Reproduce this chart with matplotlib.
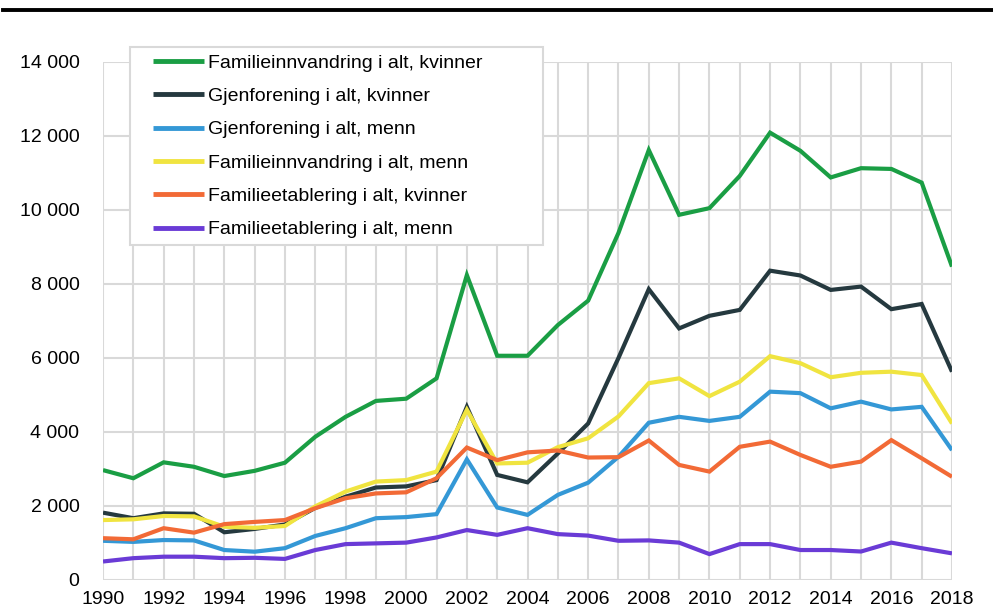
import numpy as np
import matplotlib
matplotlib.use("Agg")
import matplotlib.pyplot as plt
from matplotlib.patches import Rectangle
from matplotlib.ticker import FuncFormatter, MultipleLocator

plt.rcParams['font.family'] = ['Liberation Sans', 'DejaVu Sans']

years = list(range(1990, 2019))

# Familieinnvandring i alt, kvinner
fam_kv = [2970, 2750, 3180, 3060, 2810, 2950, 3170, 3870, 4410, 4840, 4900, 5450,
          8240, 6060, 6060, 6890, 7550, 9380, 11620, 9870, 10050, 10920, 12090,
          11600, 10880, 11130, 11110, 10740, 8470]
# Gjenforening i alt, kvinner
gjen_kv = [1820, 1670, 1800, 1790, 1290, 1380, 1500, 1950, 2250, 2500, 2530, 2700,
           4680, 2840, 2640, 3420, 4230, 6000, 7860, 6800, 7140, 7300, 8360,
           8230, 7840, 7930, 7320, 7460, 5630]
# Gjenforening i alt, menn
gjen_m = [1060, 1030, 1080, 1070, 810, 765, 860, 1190, 1400, 1670, 1700, 1780,
          3260, 1960, 1760, 2300, 2630, 3330, 4250, 4410, 4300, 4410, 5090,
          5050, 4640, 4820, 4610, 4680, 3510]
# Familieinnvandring i alt, menn
fam_m = [1620, 1640, 1730, 1720, 1440, 1410, 1460, 1990, 2390, 2660, 2700, 2930,
         4600, 3150, 3170, 3590, 3830, 4420, 5320, 5450, 4970, 5360, 6050,
         5860, 5480, 5600, 5630, 5540, 4230]
# Familieetablering i alt, kvinner
etab_kv = [1130, 1100, 1400, 1280, 1510, 1570, 1620, 1940, 2210, 2340, 2370, 2750,
           3580, 3240, 3450, 3500, 3310, 3320, 3770, 3110, 2930, 3600, 3740,
           3380, 3060, 3200, 3780, 3290, 2790]
# Familieetablering i alt, menn
etab_m = [500, 590, 630, 630, 590, 600, 570, 810, 970, 990, 1010, 1150,
          1350, 1220, 1400, 1240, 1200, 1060, 1070, 1010, 700, 970, 970,
          810, 810, 770, 1010, 860, 720]

series = [
    ("Familieinnvandring i alt, kvinner", fam_kv, "#1a9e44"),
    ("Gjenforening i alt, kvinner", gjen_kv, "#25393f"),
    ("Gjenforening i alt, menn", gjen_m, "#3498d6"),
    ("Familieinnvandring i alt, menn", fam_m, "#f0e440"),
    ("Familieetablering i alt, kvinner", etab_kv, "#f26a36"),
    ("Familieetablering i alt, menn", etab_m, "#6a3bd6"),
]

W, H = 993, 614
fig = plt.figure(figsize=(W / 100, H / 100), dpi=100)
ax = fig.add_axes([103 / W, 1 - 580 / H, 849 / W, 518 / H])

for label, vals, col in series:
    ax.plot(years, vals, color=col, lw=3.0, label=label, solid_capstyle='butt',
            solid_joinstyle='miter')

ax.set_xlim(1990, 2018)
ax.set_ylim(0, 14000)
ax.xaxis.set_major_locator(MultipleLocator(2))
ax.xaxis.set_minor_locator(MultipleLocator(1))
ax.yaxis.set_major_locator(MultipleLocator(2000))
ax.yaxis.set_major_formatter(FuncFormatter(lambda v, p: f"{int(v):,}".replace(",", " ")))

ax.grid(True, which='both', axis='x', color='#d9d9d9', lw=1.5)
ax.grid(True, which='major', axis='y', color='#d9d9d9', lw=1.5)
ax.set_axisbelow(True)
for s in ax.spines.values():
    s.set_visible(False)
ax.tick_params(axis='both', which='both', length=0, labelsize=14)
ax.tick_params(axis='y', pad=17)
ax.tick_params(axis='x', pad=8)

# legend frame (Excel style, wide box)
ax.add_patch(Rectangle((130 / W, 1 - 245 / H), 413 / W, 198 / H,
                       transform=fig.transFigure, facecolor='white',
                       edgecolor='#d9d9d9', lw=1.5, zorder=4, clip_on=False))
leg = ax.legend(loc='upper left', bbox_to_anchor=(153 / W, 1 - 54 / H),
                bbox_transform=fig.transFigure, fontsize=14, frameon=False,
                handlelength=2.6, handletextpad=0.25, labelspacing=0.81,
                borderpad=0, borderaxespad=0)
leg.set_zorder(5)
for h in leg.get_lines():
    h.set_linewidth(3.5)

# heavy rule under the (cropped) figure title
fig.add_artist(plt.Line2D([0.003, 1.0], [1 - 9.5 / H, 1 - 9.5 / H], color='black',
                          lw=2.8, transform=fig.transFigure))

fig.savefig("out.png", dpi=100)
